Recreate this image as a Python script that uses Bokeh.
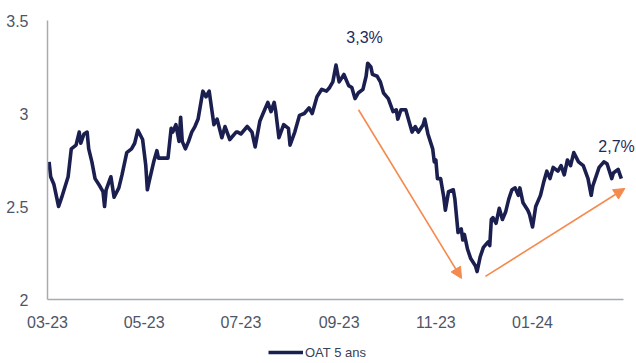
import pandas as pd
from bokeh.plotting import figure
from bokeh.layouts import column
from bokeh.models import (Range1d, MonthsTicker, DatetimeTickFormatter, FixedTicker,
                          Arrow, NormalHead, Label, Legend, LegendItem)
from bokeh.embed import file_html
from bokeh.resources import INLINE

# ---------------- data ----------------
series_name = "OAT 5 ans"
dates = [
    "2023-03-02", "2023-03-03", "2023-03-05", "2023-03-08", "2023-03-10", "2023-03-14",
    "2023-03-16", "2023-03-19", "2023-03-21", "2023-03-22", "2023-03-24", "2023-03-26",
    "2023-03-27", "2023-03-29", "2023-03-31", "2023-04-03", "2023-04-05", "2023-04-06",
    "2023-04-07", "2023-04-10", "2023-04-12", "2023-04-15", "2023-04-17", "2023-04-20",
    "2023-04-23", "2023-04-25", "2023-04-27", "2023-04-30", "2023-05-02", "2023-05-03",
    "2023-05-04", "2023-05-07", "2023-05-09", "2023-05-10", "2023-05-13", "2023-05-16",
    "2023-05-18", "2023-05-19", "2023-05-21", "2023-05-23", "2023-05-24", "2023-05-25",
    "2023-05-27", "2023-05-29", "2023-05-31", "2023-06-02", "2023-06-04", "2023-06-07",
    "2023-06-09", "2023-06-11", "2023-06-14", "2023-06-16", "2023-06-19", "2023-06-21",
    "2023-06-24", "2023-06-28", "2023-06-29", "2023-07-01", "2023-07-05", "2023-07-08",
    "2023-07-10", "2023-07-13", "2023-07-16", "2023-07-18", "2023-07-20", "2023-07-22",
    "2023-07-23", "2023-07-25", "2023-07-28", "2023-07-31", "2023-08-01", "2023-08-04",
    "2023-08-07", "2023-08-10", "2023-08-13", "2023-08-15", "2023-08-18", "2023-08-21",
    "2023-08-24", "2023-08-26", "2023-08-28", "2023-08-30", "2023-09-01", "2023-09-04",
    "2023-09-07", "2023-09-09", "2023-09-11", "2023-09-13", "2023-09-16", "2023-09-18",
    "2023-09-19", "2023-09-21", "2023-09-22", "2023-09-25", "2023-09-27", "2023-09-29",
    "2023-10-02", "2023-10-05", "2023-10-07", "2023-10-08", "2023-10-10", "2023-10-13",
    "2023-10-15", "2023-10-17", "2023-10-19", "2023-10-21", "2023-10-24", "2023-10-25",
    "2023-10-27", "2023-10-30", "2023-10-31", "2023-11-01", "2023-11-02", "2023-11-04",
    "2023-11-06", "2023-11-07", "2023-11-09", "2023-11-12", "2023-11-13", "2023-11-15",
    "2023-11-17", "2023-11-18", "2023-11-19", "2023-11-21", "2023-11-23", "2023-11-26",
    "2023-11-27", "2023-11-29", "2023-12-01", "2023-12-04", "2023-12-05", "2023-12-06",
    "2023-12-07", "2023-12-09", "2023-12-11", "2023-12-13", "2023-12-15", "2023-12-17",
    "2023-12-19", "2023-12-21", "2023-12-23", "2023-12-24", "2023-12-26", "2023-12-29",
    "2023-12-30", "2024-01-01", "2024-01-03", "2024-01-06", "2024-01-08", "2024-01-10",
    "2024-01-12", "2024-01-14", "2024-01-17", "2024-01-19", "2024-01-21", "2024-01-23",
    "2024-01-25", "2024-01-27", "2024-01-30", "2024-02-02", "2024-02-05", "2024-02-07",
    "2024-02-08", "2024-02-12", "2024-02-15", "2024-02-17", "2024-02-20", "2024-02-21",
    "2024-02-24", "2024-02-26",
]
oat_5y = [
    2.74, 2.66, 2.62, 2.50, 2.55, 2.66,
    2.81, 2.83, 2.90, 2.84, 2.89, 2.90,
    2.81, 2.74, 2.65, 2.61, 2.58, 2.50,
    2.59, 2.66, 2.55, 2.60, 2.67, 2.79,
    2.81, 2.84, 2.91, 2.86, 2.72, 2.59,
    2.63, 2.74, 2.80, 2.76, 2.76, 2.76,
    2.92, 2.90, 2.94, 2.85, 2.98, 2.85,
    2.81, 2.85, 2.90, 2.93, 2.97, 3.12,
    3.09, 3.12, 2.94, 2.97, 2.87, 2.93,
    2.86, 2.90, 2.90, 2.89, 2.93, 2.90,
    2.82, 2.96, 3.02, 3.06, 3.01, 3.06,
    3.01, 2.87, 2.94, 2.92, 2.83, 2.90,
    2.99, 3.00, 3.03, 3.00, 3.09, 3.13,
    3.12, 3.14, 3.17, 3.26, 3.17, 3.21,
    3.15, 3.14, 3.08, 3.11, 3.13, 3.20,
    3.27, 3.25, 3.21, 3.20, 3.17, 3.11,
    3.08, 3.01, 3.02, 2.97, 3.02, 3.02,
    2.96, 2.90, 2.93, 2.90, 2.94, 2.97,
    2.89, 2.81, 2.74, 2.75, 2.65, 2.65,
    2.55, 2.48, 2.58, 2.59, 2.54, 2.36,
    2.38, 2.32, 2.35, 2.27, 2.22, 2.18,
    2.15, 2.23, 2.28, 2.31, 2.29, 2.43,
    2.44, 2.41, 2.49, 2.43, 2.47, 2.54,
    2.59, 2.60, 2.56, 2.60, 2.52, 2.48,
    2.46, 2.39, 2.50, 2.56, 2.63, 2.69,
    2.65, 2.71, 2.69, 2.72, 2.67, 2.75,
    2.72, 2.79, 2.74, 2.72, 2.65, 2.56,
    2.61, 2.71, 2.74, 2.73, 2.65, 2.68,
    2.70, 2.65,
]
y_ticks = [2, 2.5, 3, 3.5]
y_tick_labels = ["2", "2.5", "3", "3.5"]
x_tick_months = [0, 2, 4, 6, 8, 10]   # Jan, Mar, May, Jul, Sep, Nov (0-based)
x_start, x_axis_end, x_view_end = "2023-03-01", "2024-02-27 10:00", "2024-03-06 14:00"

# annotations: text labels and trend arrows
labels_text = ["3,3%", "2,7%"]
labels_x = ["2023-09-17", "2024-02-23"]
labels_y = [3.41, 2.82]
arrows_from = [("2023-09-13 05:00", 3.02), ("2023-12-02 07:00", 2.124)]
arrows_to = [("2023-11-17 05:00", 2.113), ("2024-02-28 06:00", 2.597)]

NAVY = "#1b1f4f"
ORANGE = "#f58a4f"
TICK_COLOR = "#4f5568"
FONT = "Liberation Sans"

ts = pd.to_datetime(dates)

p = figure(width=636, height=335, x_axis_type="datetime",
           x_range=Range1d(pd.Timestamp(x_start), pd.Timestamp(x_view_end)),
           y_range=Range1d(2, 3.5),
           output_backend="svg", toolbar_location=None,
           min_border_left=47, min_border_right=0,
           min_border_top=20, min_border_bottom=36)
p.outline_line_color = None
p.background_fill_color = "white"
p.border_fill_color = "white"
p.xgrid.visible = False
p.ygrid.visible = False

r = p.line(ts, oat_5y, line_color=NAVY, line_width=3.6, line_join="round")

# axes
for ax in (p.xaxis[0], p.yaxis[0]):
    ax.axis_line_color = "#a9abb3"
    ax.axis_line_width = 1.5
    ax.major_tick_line_color = None
    ax.minor_tick_line_color = None
    ax.major_label_text_font = FONT
    ax.major_label_text_font_size = "16px"
    ax.major_label_text_color = TICK_COLOR

p.xaxis.ticker = MonthsTicker(months=x_tick_months)
p.xaxis.formatter = DatetimeTickFormatter(months="%m-%y", days="%m-%y")
p.xaxis.major_label_standoff = 10
p.xaxis.bounds = (pd.Timestamp(x_start), pd.Timestamp(x_axis_end))

p.yaxis.ticker = FixedTicker(ticks=y_ticks)
p.yaxis.major_label_overrides = {t: l for t, l in zip(y_ticks, y_tick_labels)}
p.yaxis.major_label_standoff = 13

# arrows
for (x0, y0), (x1, y1) in zip(arrows_from, arrows_to):
    p.add_layout(Arrow(
        end=NormalHead(size=11, fill_color=ORANGE, line_color=ORANGE, line_width=1),
        x_start=pd.Timestamp(x0), y_start=y0, x_end=pd.Timestamp(x1), y_end=y1,
        line_color=ORANGE, line_width=1.6))

# value labels
for t, x, y in zip(labels_text, labels_x, labels_y):
    p.add_layout(Label(x=pd.Timestamp(x), y=y, text=t, text_align="center",
                       text_baseline="middle", text_font=FONT,
                       text_font_size="16px", text_color="#1f2a5c"))

# legend strip below the chart (helper line sits outside its visible range)
lg = figure(width=636, height=28, x_range=(0, 1), y_range=(0, 1),
            output_backend="svg", toolbar_location=None,
            min_border_left=0, min_border_right=0, min_border_top=0, min_border_bottom=0)
lg.axis.visible = False
lg.grid.visible = False
lg.outline_line_color = None
lr = lg.line([5, 6], [5, 6], line_color=NAVY, line_width=3.6)
legend = Legend(items=[LegendItem(label=series_name, renderers=[lr])],
                location=(221, 3), orientation="horizontal",
                border_line_color=None, background_fill_alpha=0,
                padding=0, margin=0, label_standoff=2,
                glyph_width=35, glyph_height=16,
                label_text_font=FONT, label_text_font_size="13px",
                label_text_color="#3a3f55")
lg.add_layout(legend, "center")

open("out.html", "w").write(file_html(column(p, lg), INLINE))
